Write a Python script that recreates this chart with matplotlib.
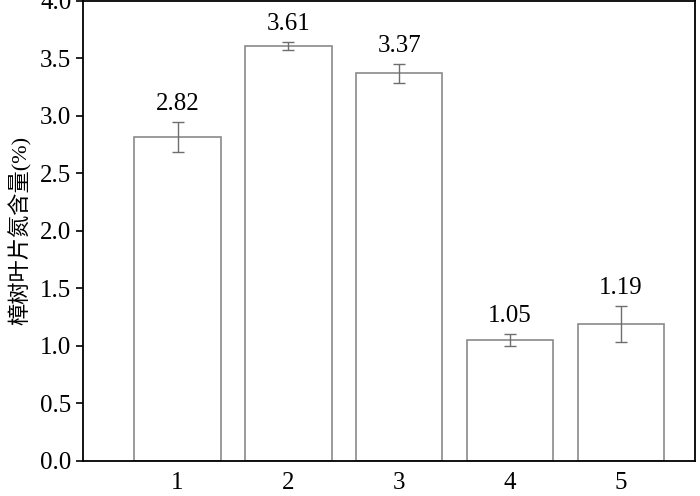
import matplotlib
matplotlib.use("Agg")
import matplotlib.pyplot as plt

plt.rcParams['font.family'] = ['Liberation Serif', 'Noto Sans CJK SC']

groups = [1, 2, 3, 4, 5]
values = [2.82, 3.61, 3.37, 1.05, 1.19]
errors = [0.13, 0.035, 0.085, 0.05, 0.16]
labels = ["2.82", "3.61", "3.37", "1.05", "1.19"]
ylabel = "樟树叶片氮含量(%)"

fig = plt.figure(figsize=(7, 4.96), dpi=100)
ax = fig.add_axes([0.119, 0.071, 0.874, 0.927])

ax.bar(groups, values, width=0.78, color="white", edgecolor="#8a8a8a", linewidth=1.2)
ax.errorbar(groups, values, yerr=errors, fmt="none", ecolor="#6e6e6e",
            elinewidth=1.0, capsize=4, capthick=1.0)

# value labels above error bars
for x, v, e, t in zip(groups, values, errors, labels):
    ax.text(x, v + e + 0.06, t, ha="center", va="bottom", fontsize=18)

ax.set_xlim(0.15, 5.67)
ax.set_ylim(0, 4.0)
ax.set_xticks(groups)
ax.set_xticklabels([str(g) for g in groups])
ax.set_yticks([0.0, 0.5, 1.0, 1.5, 2.0, 2.5, 3.0, 3.5, 4.0])
ax.set_yticklabels(["0.0", "0.5", "1.0", "1.5", "2.0", "2.5", "3.0", "3.5", "4.0"])
ax.tick_params(axis="y", direction="out", length=5, width=1.2, labelsize=18)
ax.tick_params(axis="x", length=0, labelsize=18, pad=8)
for s in ax.spines.values():
    s.set_linewidth(1.3)
ax.set_ylabel(ylabel, fontsize=16, labelpad=6)

fig.savefig("out.png", dpi=100)
